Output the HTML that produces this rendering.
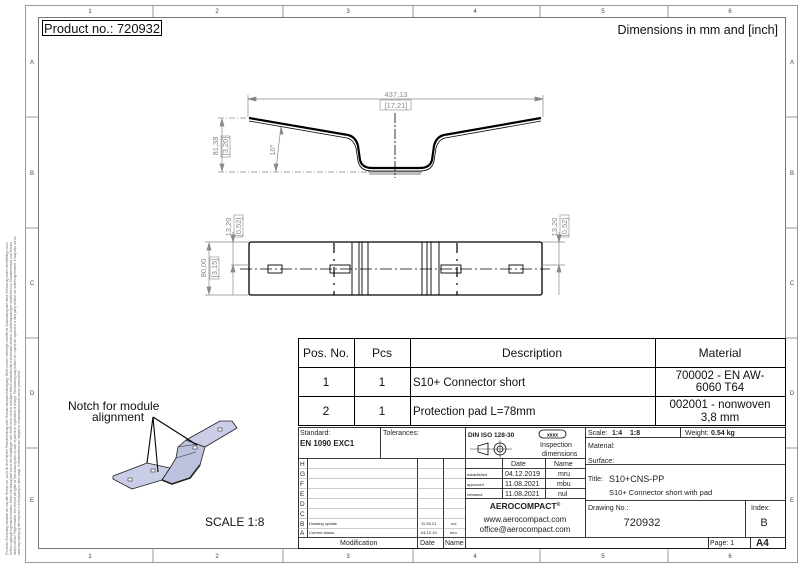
<!DOCTYPE html>
<html><head><meta charset="utf-8"><style>
html,body{margin:0;padding:0;background:#fff}
svg{display:block;font-family:"Liberation Sans","DejaVu Sans",sans-serif}
</style></head><body>
<svg width="800" height="566" viewBox="0 0 800 566" xmlns="http://www.w3.org/2000/svg">
<!-- frame -->
<g fill="none" stroke="#999" stroke-width="1">
<rect x="25.5" y="5.5" width="772" height="557"/>
<rect x="38.5" y="17.5" width="747" height="531" stroke="#777"/>
<line x1="153" y1="5" x2="153" y2="17"/><line x1="283" y1="5" x2="283" y2="17"/><line x1="413" y1="5" x2="413" y2="17"/><line x1="540" y1="5" x2="540" y2="17"/><line x1="668" y1="5" x2="668" y2="17"/>
<line x1="153" y1="548" x2="153" y2="562"/><line x1="283" y1="548" x2="283" y2="562"/><line x1="413" y1="548" x2="413" y2="562"/><line x1="540" y1="548" x2="540" y2="562"/><line x1="668" y1="548" x2="668" y2="562"/>
<line x1="25" y1="117" x2="38" y2="117"/><line x1="25" y1="228" x2="38" y2="228"/><line x1="25" y1="338" x2="38" y2="338"/><line x1="25" y1="448" x2="38" y2="448"/>
<line x1="785" y1="117" x2="798" y2="117"/><line x1="785" y1="228" x2="798" y2="228"/><line x1="785" y1="338" x2="798" y2="338"/><line x1="785" y1="448" x2="798" y2="448"/>
</g>
<g font-size="6" fill="#444" text-anchor="middle">
<text x="90" y="13">1</text><text x="217" y="13">2</text><text x="348" y="13">3</text><text x="475" y="13">4</text><text x="603" y="13">5</text><text x="730" y="13">6</text>
<text x="90" y="558">1</text><text x="217" y="558">2</text><text x="348" y="558">3</text><text x="475" y="558">4</text><text x="603" y="558">5</text><text x="730" y="558">6</text>
<text x="32" y="64">A</text><text x="32" y="175">B</text><text x="32" y="285">C</text><text x="32" y="395">D</text><text x="32" y="502">E</text>
<text x="792" y="64">A</text><text x="792" y="175">B</text><text x="792" y="285">C</text><text x="792" y="395">D</text><text x="792" y="502">E</text>
</g>
<g font-size="3.2" fill="#666">
<text transform="translate(8,555) rotate(-90)">Für diese Zeichnung behalten wir uns alle Rechte vor, auch für den Fall der Patenterteilung oder Gebrauchsmustereintragung. Ohne unsere vorherige schriftliche Zustimmung darf diese Zeichnung weder vervielfältigt, noch</text>
<text transform="translate(12,555) rotate(-90)">Dritten zugänglich gemacht werden. Diese Zeichnung darf durch den Empfänger oder Dritte auch nicht in sonstiger Weise missbräuchlich verwendet werden. Zuwiderhandlungen verpflichten zu Schadensersatz und können</text>
<text transform="translate(16,555) rotate(-90)">strafrechtliche Folgen haben. We reserve all rights for this drawing also in case of patent or registration of design. This drawing may neither be copied nor opened to a third party without our written agreement. It may also not be</text>
<text transform="translate(20,555) rotate(-90)">used improperly by the recipient or a third party in other ways. Contraventions are obliged to compensation and can be prosecuted.</text>
</g>
<!-- header texts -->
<rect x="42.5" y="20.5" width="119" height="15" fill="none" stroke="#000"/>
<text x="44" y="33" font-size="12.5" fill="#111" textLength="116" lengthAdjust="spacingAndGlyphs">Product no.: 720932</text>
<text x="778" y="34" font-size="12.5" fill="#111" text-anchor="end">Dimensions in mm and [inch]</text>

<!-- front view -->
<g fill="none" stroke="#000">
<path d="M249,118 L348,135 Q356,137 358,146 L360,160 Q362,168 372,168 L420,168 Q430,168 432,160 L434,146 Q436,137 444,135 L541,118" stroke-width="2.2"/>
<path d="M249,121 L347,138 Q354,140 356,148 L358,161 Q360,171 372,171 L420,171 Q432,171 434,161 L436,148 Q438,140 445,138 L541,121" stroke-width="0.8"/>
<path d="M368,172 L422,172 M369,174 L421,174" stroke-width="0.6"/>
</g>
<g stroke="#888" stroke-width="0.7" fill="none">
<line x1="248" y1="99" x2="543" y2="99"/>
<line x1="248" y1="95" x2="248" y2="117"/><line x1="543" y1="95" x2="543" y2="117"/>
<path d="M248,99 l8,-2 v4z M543,99 l-8,-2 v4z" fill="#888"/>
<line x1="218" y1="118" x2="248" y2="118" stroke-dasharray="6,2,1,2"/>
<line x1="218" y1="172" x2="368" y2="172" stroke-dasharray="6,2,1,2"/>
<line x1="222" y1="119" x2="222" y2="171"/>
<path d="M222,119 l-2,7 h4z M222,171 l-2,-7 h4z" fill="#888"/>
<path d="M281,127 Q278,150 276,171"/>
<path d="M276,171 l-2,-7 h4z M281,127 l-1,7 h3z" fill="#888"/>
</g>
<line x1="395" y1="113" x2="395" y2="178" stroke="#000" stroke-width="0.8" stroke-dasharray="10,2,2,2"/>
<g font-size="7.5" fill="#888" text-anchor="middle">
<text x="396" y="97">437,13</text><text x="396" y="108">[17,21]</text>
<text transform="translate(218,146) rotate(-90)">81,38</text>
<text transform="translate(228,146) rotate(-90)">[3,20]</text>
<text transform="translate(275,150) rotate(-90)">10°</text>
</g>
<rect x="380" y="100" width="31" height="10" fill="none" stroke="#888" stroke-width="0.6"/>
<rect x="221" y="136" width="9" height="21" fill="none" stroke="#888" stroke-width="0.6"/>

<!-- top view -->
<g fill="none" stroke="#000">
<rect x="249" y="242" width="293" height="53" rx="2" stroke-width="1.3"/>
<g stroke-width="0.9">
<line x1="352" y1="242" x2="352" y2="295"/><line x1="359" y1="242" x2="359" y2="295"/><line x1="362" y1="242" x2="362" y2="295"/><line x1="368" y1="242" x2="368" y2="295"/>
<line x1="422" y1="242" x2="422" y2="295"/><line x1="427" y1="242" x2="427" y2="295"/><line x1="431" y1="242" x2="431" y2="295"/><line x1="439" y1="242" x2="439" y2="295"/>
<rect x="268" y="265" width="14" height="8"/><rect x="330" y="265" width="20" height="8"/>
<rect x="441" y="265" width="20" height="8"/><rect x="509" y="265" width="14" height="8"/>
</g>
<line x1="334" y1="243" x2="334" y2="295" stroke-width="1.2" stroke-dasharray="10,6,2,6"/>
<line x1="457" y1="243" x2="457" y2="295" stroke-width="1.2" stroke-dasharray="10,6,2,6"/>
<line x1="240" y1="269" x2="550" y2="269" stroke-width="0.8" stroke-dasharray="12,3,2,3"/>
</g>
<g stroke="#888" stroke-width="0.7" fill="none">
<line x1="205" y1="242" x2="249" y2="242"/><line x1="205" y1="295" x2="249" y2="295"/>
<line x1="209" y1="243" x2="209" y2="294"/>
<path d="M209,243 l-2,7 h4z M209,294 l-2,-7 h4z" fill="#888"/>
<line x1="233" y1="232" x2="233" y2="295"/><line x1="231" y1="265" x2="249" y2="265"/>
<path d="M233,242 l-2,-7 h4z M233,265 l-2,7 h4z" fill="#888"/>
<line x1="559" y1="232" x2="559" y2="295"/><line x1="542" y1="265" x2="565" y2="265"/><line x1="542" y1="242" x2="565" y2="242"/>
<path d="M559,242 l-2,-7 h4z M559,265 l-2,7 h4z" fill="#888"/>
</g>
<g font-size="7.5" fill="#888" text-anchor="middle">
<text transform="translate(206,268) rotate(-90)">80,00</text><text transform="translate(217,268) rotate(-90)">[3,15]</text>
<text transform="translate(231,227) rotate(-90)">13,20</text><text transform="translate(241,227) rotate(-90)">[0,52]</text>
<text transform="translate(557,227) rotate(-90)">13,20</text><text transform="translate(567,227) rotate(-90)">[0,52]</text>
</g>
<rect x="210" y="257" width="9" height="22" fill="none" stroke="#888" stroke-width="0.6"/>
<rect x="234" y="215" width="9" height="22" fill="none" stroke="#888" stroke-width="0.6"/>
<rect x="560" y="215" width="9" height="22" fill="none" stroke="#888" stroke-width="0.6"/>

<!-- iso view -->
<g stroke="#222" stroke-width="0.8" fill="#c9cde6" stroke-linejoin="round">
<path d="M113,476 L147,463 L170,468 L162,480 L132,489 L113,479 Z"/>
<path d="M170,468 L176,458 L178,447 L186,440 L205,447 L200,465 L190,478 L172,484 L162,480 Z" fill="#bcc1de"/>
<path d="M186,440 L220,421 L232,421 L237,428 L205,447 Z"/>
<path d="M162,480 L172,484 L190,478 L200,465" fill="none" stroke-width="1.6"/>
<path d="M176,458 L196,452 M178,447 L198,444" fill="none" stroke-width="0.5"/>
</g>
<g fill="none" stroke="#000" stroke-width="1.1">
<line x1="153" y1="417" x2="147" y2="463"/>
<line x1="153" y1="417" x2="158" y2="472"/>
<line x1="153" y1="417" x2="197" y2="445"/>
</g>
<g fill="#fff" stroke="#333" stroke-width="0.6"><rect x="128" y="478" width="4" height="3"/><rect x="151" y="469" width="4" height="3"/><rect x="218" y="428" width="4" height="3"/><rect x="193" y="446" width="4" height="3"/></g>
<text x="68" y="410" font-size="12" fill="#111">Notch for module</text>
<text x="92" y="421" font-size="12" fill="#111">alignment</text>
<text x="205" y="526" font-size="12" fill="#111">SCALE 1:8</text>

<!-- parts list -->
<g fill="none" stroke="#000" stroke-width="1">
<rect x="298.5" y="338.5" width="487" height="87"/>
<line x1="298" y1="367.5" x2="785" y2="367.5"/><line x1="298" y1="396.5" x2="785" y2="396.5"/>
<line x1="354.5" y1="338" x2="354.5" y2="426"/><line x1="410.5" y1="338" x2="410.5" y2="426"/><line x1="655.5" y1="338" x2="655.5" y2="426"/>
</g>
<g font-size="12" fill="#111" text-anchor="middle">
<text x="326" y="357">Pos. No.</text><text x="382" y="357">Pcs</text><text x="532" y="357">Description</text><text x="720" y="357">Material</text>
<text x="326" y="386">1</text><text x="382" y="386">1</text><text x="326" y="415">2</text><text x="382" y="415">1</text>
<text x="720" y="379" font-size="11.5">700002 - EN AW-</text><text x="720" y="391" font-size="11.5">6060 T64</text>
<text x="720" y="408" font-size="11.5">002001 - nonwoven</text><text x="720" y="421" font-size="11.5">3,8 mm</text>
</g>
<g font-size="11.5" fill="#111"><text x="413" y="386">S10+ Connector short</text><text x="413" y="415">Protection pad L=78mm</text></g>

<!-- title block -->
<g fill="none" stroke="#000" stroke-width="0.8">
<rect x="298.5" y="427.5" width="487" height="121"/>
<line x1="298" y1="458.5" x2="465" y2="458.5"/>
<line x1="380.5" y1="427" x2="380.5" y2="458"/>
<line x1="465.5" y1="427" x2="465.5" y2="548"/>
<line x1="585.5" y1="427" x2="585.5" y2="537"/>
<line x1="298" y1="537.5" x2="785" y2="537.5"/>
<line x1="307.5" y1="458" x2="307.5" y2="537"/>
<line x1="417.5" y1="458" x2="417.5" y2="548"/>
<line x1="443.5" y1="458" x2="443.5" y2="548"/>
<line x1="465" y1="458.5" x2="585" y2="458.5"/>
<line x1="465" y1="468.5" x2="585" y2="468.5"/>
<line x1="465" y1="478.5" x2="585" y2="478.5"/>
<line x1="465" y1="488.5" x2="585" y2="488.5"/>
<line x1="502.5" y1="458" x2="502.5" y2="498"/>
<line x1="545.5" y1="458" x2="545.5" y2="498"/>
<line x1="465" y1="498.5" x2="585" y2="498.5"/>
<line x1="585" y1="437.5" x2="785" y2="437.5"/>
<line x1="585" y1="464.5" x2="785" y2="464.5"/>
<line x1="585" y1="500.5" x2="785" y2="500.5"/>
<line x1="745.5" y1="500" x2="745.5" y2="537"/>
<line x1="680.5" y1="427" x2="680.5" y2="437"/>
<line x1="708.5" y1="537" x2="708.5" y2="548"/>
<line x1="750.5" y1="537" x2="750.5" y2="548"/>
</g>
<g fill="none" stroke="#999" stroke-width="0.5">
<line x1="298" y1="468.5" x2="465" y2="468.5"/><line x1="298" y1="478.5" x2="465" y2="478.5"/><line x1="298" y1="488.5" x2="465" y2="488.5"/><line x1="298" y1="498.5" x2="465" y2="498.5"/><line x1="298" y1="508.5" x2="465" y2="508.5"/><line x1="298" y1="518.5" x2="465" y2="518.5"/><line x1="298" y1="528.5" x2="465" y2="528.5"/>
</g>
<g font-size="7" fill="#222">
<text x="300" y="435">Standard:</text><text x="383" y="435">Tolerances:</text>
<text x="300" y="446" font-size="8" font-weight="bold">EN 1090 EXC1</text>
<text x="468" y="437" font-size="6.5" font-weight="bold">DIN ISO 128-30</text>
<text x="540" y="447" font-size="7">Inspection</text><text x="542" y="456" font-size="7">dimensions</text>
<g font-size="6.5"><text x="300" y="466">H</text><text x="300" y="476">G</text><text x="300" y="486">F</text><text x="300" y="496">E</text><text x="300" y="506">D</text><text x="300" y="516">C</text><text x="300" y="526">B</text><text x="300" y="535">A</text></g>
<g font-size="4"><text x="309" y="525">Drawing update</text><text x="309" y="534">Current status</text><text x="421" y="525">11.08.21</text><text x="421" y="534">04.12.19</text><text x="451" y="525">nul</text><text x="450" y="534">mru</text>
<text x="467" y="476">established</text><text x="467" y="486">approved</text><text x="467" y="496">released</text></g>
<g font-size="7"><text x="511" y="466">Date</text><text x="554" y="466">Name</text>
<text x="505" y="476">04.12.2019</text><text x="558" y="476">mru</text>
<text x="505" y="486">11.08.2021</text><text x="557" y="486">mbu</text>
<text x="505" y="496">11.08.2021</text><text x="558" y="496">nul</text>
<text x="340" y="545">Modification</text><text x="420" y="545">Date</text><text x="445" y="545">Name</text>
<text x="588" y="435">Scale:</text><text x="612" y="435" font-weight="bold">1:4</text><text x="630" y="435" font-weight="bold">1:8</text>
<text x="685" y="435">Weight:</text><text x="711" y="435" font-weight="bold">0.54 kg</text>
<text x="588" y="448">Material:</text><text x="588" y="463">Surface:</text><text x="588" y="481">Title:</text>
<text x="588" y="510">Drawing No.:</text><text x="751" y="510">Index:</text>
<text x="710" y="545">Page: 1</text></g>
<text x="609" y="482" font-size="9">S10+CNS-PP</text>
<text x="609" y="495" font-size="7.5">S10+ Connector short with pad</text>
<text x="525" y="509" font-size="8.5" font-weight="bold" text-anchor="middle">AEROCOMPACT<tspan font-size="5" dy="-3">®</tspan></text>
<text x="525" y="522" font-size="8" text-anchor="middle">www.aerocompact.com</text>
<text x="525" y="532" font-size="8" text-anchor="middle">office@aerocompact.com</text>
<text x="642" y="526" font-size="11" text-anchor="middle">720932</text>
<text x="764" y="526" font-size="11" text-anchor="middle">B</text>
<text x="756" y="546" font-size="10" font-weight="bold">A4</text>
</g>
<rect x="539" y="430" width="27" height="8" rx="4" fill="none" stroke="#000" stroke-width="0.8"/>
<text x="552.5" y="436.5" font-size="5" text-anchor="middle" font-weight="bold">xxxx</text>
<g fill="none" stroke="#000" stroke-width="0.8">
<path d="M478,446 L488,443 L488,455 L478,452 Z"/>
<circle cx="500" cy="449" r="6"/><circle cx="500" cy="449" r="3"/>
<line x1="470" y1="449" x2="512" y2="449" stroke-width="0.4"/><line x1="500" y1="440" x2="500" y2="458" stroke-width="0.4"/>
</g>
</svg>
</body></html>
